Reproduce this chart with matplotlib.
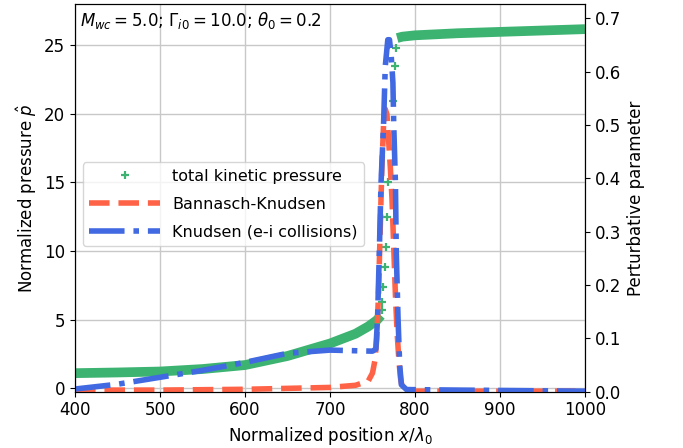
import matplotlib
matplotlib.use("Agg")
import matplotlib.pyplot as plt
from matplotlib.lines import Line2D

# ---- data ----
# total kinetic pressure (left axis), split into upstream, shock points, downstream
x_up = [400, 450, 500, 550, 600, 650, 700, 730, 745, 755, 760]
p_up = [1.10, 1.15, 1.22, 1.40, 1.69, 2.35, 3.26, 3.97, 4.50, 4.95, 5.30]
x_shock = [760.8, 761.5, 762.7, 764.7, 765.9, 767.2, 768.5, 773.8, 776.5, 777.6]
p_shock = [5.7, 6.3, 7.4, 8.8, 10.3, 12.5, 15.0, 20.9, 23.5, 24.8]
x_down = [779, 785, 800, 850, 900, 950, 1000]
p_down = [25.5, 25.6, 25.7, 25.85, 25.95, 26.05, 26.15]

# Bannasch-Knudsen (right axis)
x_bk = [400, 500, 600, 700, 730, 745, 750, 753, 755, 757, 759, 761, 763, 765,
        767, 769, 771, 773, 775, 777, 779, 781, 783, 785, 788, 800, 900, 1000]
y_bk = [0.003, 0.003, 0.0045, 0.008, 0.012, 0.02, 0.035, 0.06, 0.10, 0.18,
        0.30, 0.42, 0.50, 0.53, 0.52, 0.47, 0.42, 0.36, 0.27, 0.18, 0.11,
        0.06, 0.025, 0.008, 0.002, 0.001, 0.001, 0.001]

# Knudsen (e-i collisions) (right axis)
x_kn = [400, 450, 500, 550, 600, 650, 700, 750, 754, 756, 758, 760, 763, 765,
        768, 770, 772, 774, 775, 777, 778, 780, 782, 784, 790, 850, 1000]
y_kn = [0.005, 0.014, 0.027, 0.040, 0.055, 0.072, 0.078, 0.076, 0.08, 0.14,
        0.26, 0.39, 0.50, 0.61, 0.66, 0.66, 0.63, 0.58, 0.50, 0.39, 0.26,
        0.14, 0.05, 0.013, 0.004, 0.003, 0.001]

xticks = [400, 500, 600, 700, 800, 900, 1000]
yticks_left = [0, 5, 10, 15, 20, 25]
yticks_right = [0.0, 0.1, 0.2, 0.3, 0.4, 0.5, 0.6, 0.7]

GREEN = "#3CB371"
RED = "#FF6347"
BLUE = "#4169E1"

fig = plt.figure(figsize=(6.83, 4.48), dpi=100)
ax = fig.add_axes([75 / 683, 1 - 391.7 / 448, 510 / 683, 387.7 / 448])

ax.plot(x_up, p_up, color=GREEN, lw=7, solid_capstyle="butt")
ax.plot(x_down, p_down, color=GREEN, lw=7, solid_capstyle="butt")
ax.plot(x_shock, p_shock, ls="none", marker="+", color=GREEN, ms=6, mew=1.6)
ax.set_xlim(400, 1000)
ax.set_ylim(-0.25, 27.98)
ax.set_xticks(xticks)
ax.set_yticks(yticks_left)
ax.grid(True, color="#c8c8c8", lw=1)
ax.tick_params(labelsize=12)
ax.set_xlabel(r"Normalized position $x/\lambda_0$", fontsize=12)
ax.set_ylabel(r"Normalized pressure $\hat{p}$", fontsize=12)

ax2 = ax.twinx()
ax2.plot(x_bk, y_bk, color=RED, lw=4, ls="--")
ax2.plot(x_kn, y_kn, color=BLUE, lw=4, ls="-.")
ax2.set_ylim(0, 0.727)
ax2.set_yticks(yticks_right)
ax2.tick_params(labelsize=12)
ax2.set_ylabel("Perturbative parameter", fontsize=12)

ax.text(0.01, 0.985, r"$M_{wc} = 5.0$; $\Gamma_{i0} = 10.0$; $\theta_0 = 0.2$",
        transform=ax.transAxes, ha="left", va="top", fontsize=12)

handles = [
    Line2D([], [], ls="none", marker="+", color=GREEN, ms=6, mew=1.6),
    Line2D([], [], color=RED, lw=4, ls="--"),
    Line2D([], [], color=BLUE, lw=4, ls="-."),
]
labels = ["total kinetic pressure", "Bannasch-Knudsen", "Knudsen (e-i collisions)"]
ax2.legend(handles, labels, loc="center left", bbox_to_anchor=(0.0, 0.484),
           fontsize=11.5, handlelength=4.4, labelspacing=0.8, handletextpad=0.8)

fig.savefig("out.png", dpi=100)
